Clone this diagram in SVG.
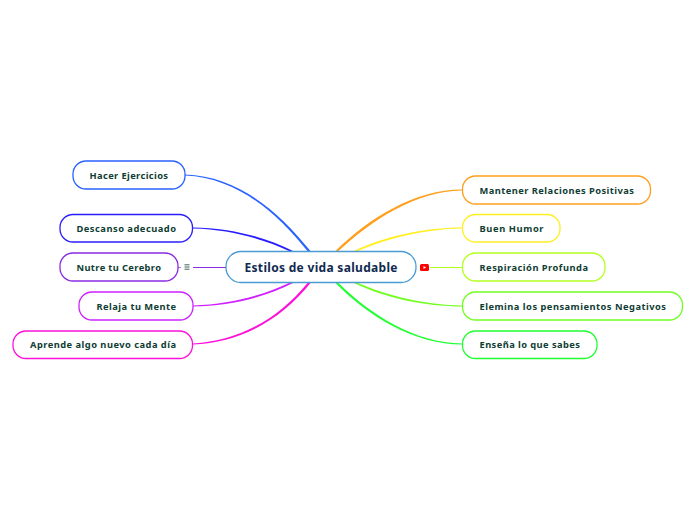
<svg xmlns="http://www.w3.org/2000/svg" width="696" height="520" viewBox="0 0 696 520">
<style>
text{font-family:"Noto Sans","Open Sans",sans-serif;font-weight:700}
.n rect{fill:#fff;stroke-width:1.3}
.n text{font-size:9.3px;fill:#0f3d33}
.c path{stroke:none}
.c .h{fill:none;stroke-width:1}
</style>
<rect width="696" height="520" fill="#fff"/>
<g id="connectors" class="c">
<path d="M185 174.500C240 176 281 214.500 310.500 251L307.500 251C279 216 240 178 185 175.500Z" fill="#2962ff"/>
<path d="M193 227.500C230 228 266 237 293 251L289 251C264 239 230 229.500 193 228.500Z" fill="#2a1eff"/>
<path class="h" d="M193 267.500H226" style="stroke:#8a2be2"/>
<path class="h" d="M178 267.500H181" style="stroke:#b070f0"/>
<path d="M193 305.500C230 304.500 264 295 289 283L293 283C266 297 230 306 193 306.500Z" fill="#d020ff"/>
<path d="M193 343.500C240 341 279 318 307.500 283L310.500 283C281 320 240 343 193 344.500Z" fill="#ff10d8"/>
<path d="M335.500 251C369 218 415 189.500 462 189.500L462 190.500C415 191 371 221 338.500 251Z" fill="#ff9f1c"/>
<path d="M354 251C385 236 425 227.500 462 227.500L462 228.500C425 229 387 238.500 358 251Z" fill="#ffee22"/>
<path class="h" d="M430 267.500H462" style="stroke:#b4ff1e"/>
<path d="M358 283C387 295.500 425 305 462 305.500L462 306.500C425 306.500 385 298 354 283Z" fill="#70ff20"/>
<path d="M338.500 283C371 315 415 343 462 343.500L462 344.500C415 344.500 369 317 335.500 283Z" fill="#20ff30"/>
</g>
<g id="central"><rect x="226" y="251.500" width="190" height="31" rx="15" fill="#fff" stroke="#4a9ad4" stroke-width="1.300"/><text x="244.500" y="272" font-size="12" fill="#102a50" textLength="153">Estilos de vida saludable</text></g>
<g id="n1" class="n"><rect x="73" y="161" width="112" height="28" rx="13" stroke="#2962ff"/><text x="89.500" y="179" textLength="78.500">Hacer Ejercicios</text></g>
<g id="n2" class="n"><rect x="60" y="214.500" width="132.500" height="27.500" rx="13" stroke="#2a1eff"/><text x="76.500" y="232" textLength="99.500">Descanso adecuado</text></g>
<g id="n3" class="n"><rect x="60" y="253" width="118" height="28" rx="13" stroke="#8a2be2"/><text x="76.500" y="271" textLength="84.500">Nutre tu Cerebro</text></g>
<g id="icon-notes"><path d="M184.500 264.800h5M184.500 267h5M184.500 269.200h5" stroke="#0f3d33" stroke-width=".8" fill="none"/></g>
<g id="n4" class="n"><rect x="79" y="292" width="114" height="28" rx="13" stroke="#d020ff"/><text x="96.500" y="310" textLength="79.500">Relaja tu Mente</text></g>
<g id="n5" class="n"><rect x="13" y="331" width="179.500" height="27.500" rx="13" stroke="#ff10d8"/><text x="30" y="348" textLength="146">Aprende algo nuevo cada día</text></g>
<g id="n6" class="n"><rect x="462.500" y="176" width="188" height="28" rx="13" stroke="#ff9f1c"/><text x="479.500" y="194" textLength="154.500">Mantener Relaciones Positivas</text></g>
<g id="n7" class="n"><rect x="462.500" y="214.500" width="97.500" height="27.500" rx="13" stroke="#ffee22"/><text x="479.500" y="232" textLength="64">Buen Humor</text></g>
<g id="n8" class="n"><rect x="462.500" y="253" width="142.500" height="28" rx="13" stroke="#b4ff1e"/><text x="479.500" y="271" textLength="108.500">Respiración Profunda</text></g>
<g id="icon-video"><rect x="420" y="264" width="9" height="7" rx="1.500" fill="#f00"/><path d="M423.500 266v3l2.500-1.500z" fill="#fff"/></g>
<g id="n9" class="n"><rect x="462.500" y="292" width="220" height="28" rx="13" stroke="#70ff20"/><text x="479.500" y="310" textLength="186.500">Elemina los pensamientos Negativos</text></g>
<g id="n10" class="n"><rect x="462.500" y="331" width="134.500" height="27.500" rx="13" stroke="#20ff30"/><text x="479.500" y="348" textLength="100.500">Enseña lo que sabes</text></g>
</svg>
